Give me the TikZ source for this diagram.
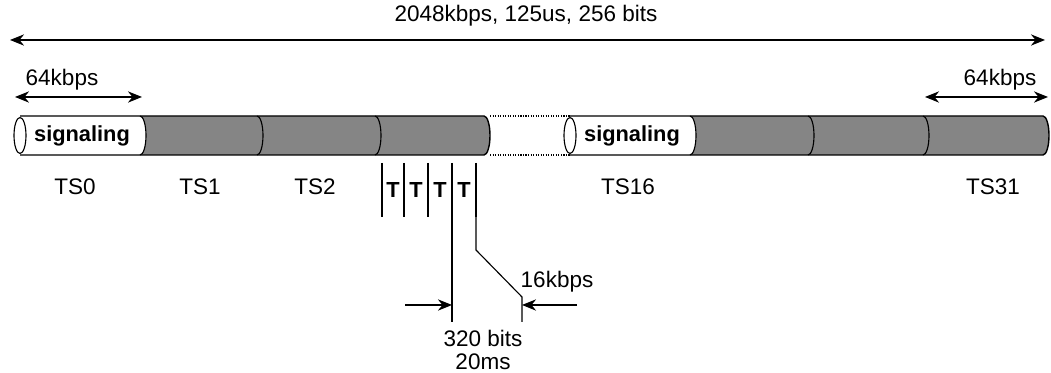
\documentclass[tikz,border=0pt]{standalone}
\usepackage{fontspec}
\setmainfont{Liberation Sans}
\usetikzlibrary{arrows.meta}

\tikzset{
  lbl/.style={font=\fontsize{16}{19}\selectfont, inner sep=0pt},
  boldlbl/.style={font=\fontsize{15.5}{18}\selectfont\bfseries, inner sep=0pt},
  slotfill/.style={fill=black!48},
  capend/.style={x radius=6, y radius=19.5},
}

\begin{document}
\begin{tikzpicture}[x=0.025cm, y=0.025cm, >={Stealth[length=10pt,width=8pt]}, line width=0.8pt]
    \useasboundingbox (0,0) rectangle (1051,373);

    % Whole frame
    \coordinate (frameL) at (10,333);
    \coordinate (frameR) at (1045,333);
    \draw[<->] (frameL) -- (frameR);
    \node[lbl] (lblTotal) at (526,357) {2048kbps, 125us, 256 bits};

    % Width of one time slot
    \coordinate (slotAL) at (15,276);
    \coordinate (slotAR) at (142,276);
    \draw[<->] (slotAL) -- (slotAR);
    \node[lbl] (lblRateL) at (62,293) {64kbps};
    \coordinate (slotBL) at (925,276);
    \coordinate (slotBR) at (1048,276);
    \draw[<->] (slotBL) -- (slotBR);
    \node[lbl] (lblRateR) at (1000,293) {64kbps};

    % Trunk, left part (TS0 ... TS15)
    \fill[slotfill] (140,257) -- (484,257) arc[start angle=90, end angle=-90, capend]
        -- (140,218) arc[start angle=-90, end angle=90, capend] -- cycle;
    \draw[line width=1pt] (20,257) -- (484,257) arc[start angle=90, end angle=-90, capend] -- (20,218);
    \draw[fill=white] (20,237.5) ellipse [x radius=6, y radius=18];
    \foreach \x in {140,257,375}
        \draw (\x,257) arc[start angle=90, end angle=-90, capend];

    % Gap between the two parts
    \draw[densely dotted] (490,257) -- (570,257);
    \draw[densely dotted] (490,218) -- (570,218);

    % Trunk, right part (TS16 ... TS31)
    \fill[slotfill] (690,257) -- (1043,257) arc[start angle=90, end angle=-90, capend]
        -- (690,218) arc[start angle=-90, end angle=90, capend] -- cycle;
    \draw[line width=1pt] (570,257) -- (1043,257) arc[start angle=90, end angle=-90, capend] -- (570,218);
    \draw[fill=white] (570,237.5) ellipse [x radius=6, y radius=18];
    \foreach \x in {690,808,923}
        \draw (\x,257) arc[start angle=90, end angle=-90, capend];

    \node[boldlbl] (sig0) at (82,237.5) {signaling};
    \node[boldlbl] (sig16) at (632,237.5) {signaling};

    % Slot names
    \node[lbl] (ts0) at (75,186) {TS0};
    \node[lbl] (ts1) at (200,186) {TS1};
    \node[lbl] (ts2) at (315,186) {TS2};
    \node[lbl] (ts16) at (628,186) {TS16};
    \node[lbl] (ts31) at (993,186) {TS31};

    % Sub-channels of TS3
    \foreach \x in {382,404,428,452,476}
        \draw (\x,210) -- (\x,156);
    \foreach \x [count=\i] in {393,416,440,464}
        \node[boldlbl] (t\i) at (\x,183) {T};

    \draw (452,156) -- (452,51);
    \draw (476,156) -- (476,123) -- (522,76) -- (522,51);

    % Width of one sub-channel
    \coordinate (subL) at (452,68);
    \coordinate (subR) at (522,68);
    \coordinate (dimL) at (405,68);
    \coordinate (dimR) at (577,68);
    \draw[->] (dimL) -- (subL);
    \draw[->] (dimR) -- (subR);
    \node[lbl] (lblSub) at (557,91) {16kbps};
    \node[lbl] (lblBits) at (483,35) {320 bits};
    \node[lbl] (lblTime) at (483,11) {20ms};
\end{tikzpicture}
\end{document}
